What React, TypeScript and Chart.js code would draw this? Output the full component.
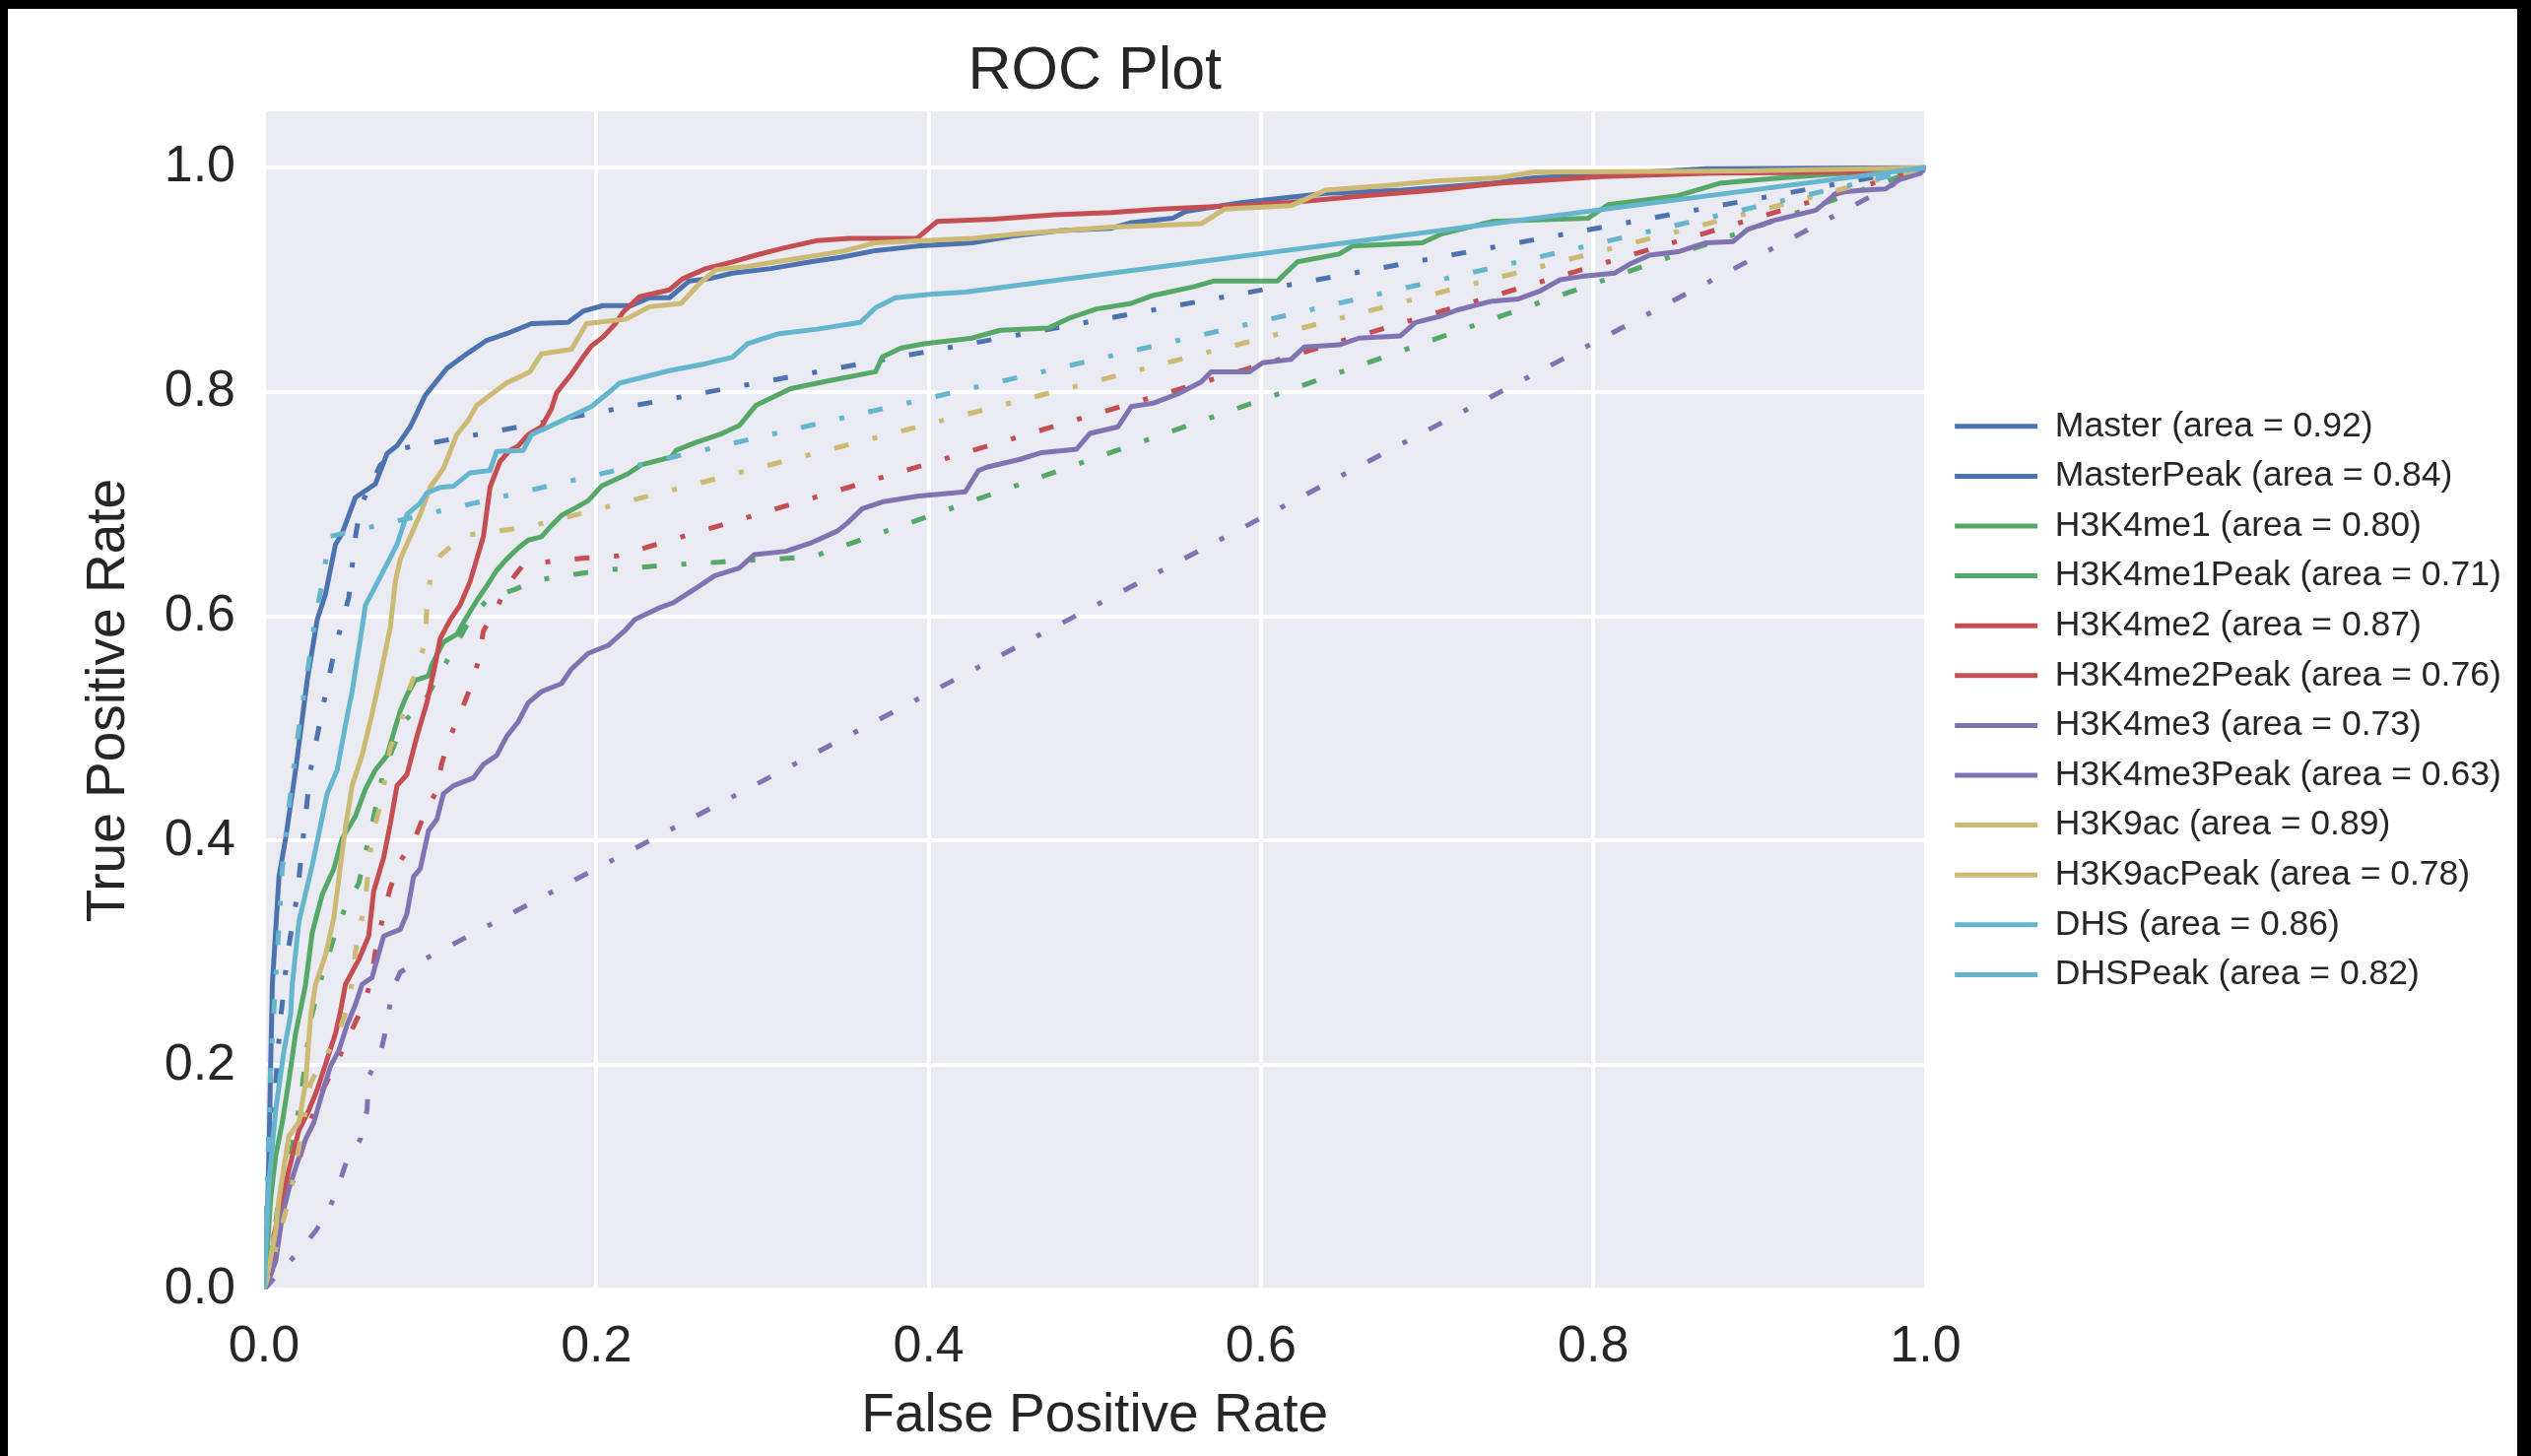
import React, { useEffect, useRef } from 'react';
import { Chart, registerables } from 'chart.js';

Chart.register(...registerables);

// ---------- data ----------
const seriesNames = [
  'Master', 'MasterPeak', 'H3K4me1', 'H3K4me1Peak', 'H3K4me2', 'H3K4me2Peak',
  'H3K4me3', 'H3K4me3Peak', 'H3K9ac', 'H3K9acPeak', 'DHS', 'DHSPeak',
];
const areaValues = [0.92, 0.84, 0.80, 0.71, 0.87, 0.76, 0.73, 0.63, 0.89, 0.78, 0.86, 0.82];
const tickValues = [0, 0.2, 0.4, 0.6, 0.8, 1.0];

const master = [[0,0],[0.002,0.066],[0.003,0.125],[0.004,0.2],[0.005,0.272],[0.009,0.368],[0.013,0.402],[0.019,0.463],[0.026,0.543],[0.032,0.597],[0.037,0.620],[0.043,0.664],[0.047,0.674],[0.055,0.706],[0.067,0.718],[0.074,0.745],[0.080,0.752],[0.088,0.769],[0.090,0.775],[0.097,0.797],[0.110,0.821],[0.123,0.835],[0.134,0.846],[0.146,0.852],[0.161,0.861],[0.183,0.862],[0.192,0.872],[0.204,0.877],[0.221,0.877],[0.232,0.884],[0.244,0.884],[0.256,0.899],[0.268,0.901],[0.282,0.906],[0.305,0.910],[0.329,0.916],[0.347,0.920],[0.368,0.926],[0.393,0.930],[0.426,0.933],[0.451,0.939],[0.480,0.944],[0.510,0.946],[0.522,0.951],[0.547,0.955],[0.555,0.961],[0.589,0.969],[0.639,0.977],[0.685,0.980],[0.739,0.986],[0.764,0.991],[0.809,0.994],[0.868,0.999],[1,1]];
const masterPeak = [[0,0],[0.002,0.06],[0.004,0.125],[0.007,0.184],[0.010,0.242],[0.012,0.269],[0.014,0.298],[0.020,0.352],[0.024,0.409],[0.028,0.463],[0.035,0.516],[0.042,0.567],[0.051,0.617],[0.055,0.671],[0.058,0.698],[0.070,0.735],[0.084,0.750],[1,1]];
const h3k4me1 = [[0,0],[0.002,0.037],[0.004,0.081],[0.007,0.119],[0.011,0.149],[0.015,0.187],[0.019,0.228],[0.023,0.257],[0.025,0.272],[0.029,0.318],[0.035,0.352],[0.042,0.375],[0.047,0.402],[0.055,0.422],[0.061,0.446],[0.067,0.463],[0.074,0.476],[0.078,0.496],[0.082,0.516],[0.086,0.530],[0.091,0.543],[0.099,0.547],[0.101,0.557],[0.108,0.577],[0.116,0.584],[0.121,0.597],[0.128,0.614],[0.134,0.627],[0.140,0.641],[0.146,0.651],[0.153,0.661],[0.159,0.668],[0.167,0.671],[0.173,0.681],[0.179,0.690],[0.189,0.698],[0.195,0.703],[0.203,0.716],[0.219,0.727],[0.227,0.735],[0.245,0.742],[0.248,0.748],[0.260,0.755],[0.274,0.762],[0.286,0.770],[0.296,0.788],[0.317,0.803],[0.340,0.810],[0.368,0.818],[0.372,0.831],[0.383,0.839],[0.397,0.843],[0.426,0.848],[0.443,0.855],[0.472,0.857],[0.485,0.866],[0.501,0.874],[0.522,0.879],[0.535,0.886],[0.560,0.894],[0.572,0.899],[0.610,0.899],[0.622,0.916],[0.647,0.923],[0.655,0.930],[0.697,0.933],[0.709,0.941],[0.739,0.952],[0.797,0.955],[0.809,0.967],[0.851,0.975],[0.876,0.986],[0.913,0.991],[1,1]];
const h3k4me1Peak = [[0,0],[0.005,0.04],[0.009,0.08],[0.015,0.11],[0.022,0.17],[0.028,0.24],[0.035,0.28],[0.043,0.318],[0.049,0.341],[0.057,0.362],[0.065,0.415],[0.072,0.462],[0.084,0.506],[0.096,0.523],[0.110,0.560],[0.125,0.600],[0.136,0.617],[0.151,0.624],[0.163,0.632],[0.203,0.641],[0.246,0.646],[0.282,0.649],[0.330,0.653],[1,1]];
const h3k4me2 = [[0,0],[0.005,0.017],[0.006,0.049],[0.011,0.081],[0.015,0.107],[0.021,0.142],[0.027,0.160],[0.032,0.178],[0.043,0.228],[0.046,0.248],[0.049,0.272],[0.057,0.294],[0.063,0.315],[0.066,0.355],[0.072,0.385],[0.076,0.415],[0.080,0.449],[0.086,0.459],[0.092,0.493],[0.098,0.523],[0.103,0.557],[0.106,0.580],[0.112,0.597],[0.118,0.610],[0.124,0.631],[0.128,0.651],[0.132,0.671],[0.136,0.715],[0.142,0.738],[0.148,0.748],[0.153,0.752],[0.159,0.762],[0.167,0.769],[0.173,0.785],[0.176,0.799],[0.178,0.803],[0.185,0.816],[0.192,0.831],[0.197,0.841],[0.204,0.849],[0.211,0.860],[0.216,0.871],[0.226,0.885],[0.244,0.891],[0.252,0.901],[0.266,0.910],[0.282,0.916],[0.296,0.922],[0.312,0.928],[0.333,0.935],[0.352,0.937],[0.393,0.937],[0.405,0.952],[0.439,0.954],[0.476,0.958],[0.510,0.960],[0.539,0.963],[0.585,0.966],[0.618,0.969],[0.664,0.975],[0.705,0.980],[0.743,0.986],[0.805,0.992],[0.872,0.995],[0.955,0.996],[1,1]];
const h3k4me2Peak = [[0,0],[0.006,0.03],[0.012,0.07],[0.020,0.11],[0.028,0.15],[0.036,0.18],[0.043,0.20],[0.054,0.235],[0.061,0.257],[0.065,0.281],[0.067,0.301],[0.072,0.335],[0.076,0.358],[0.082,0.382],[0.090,0.399],[0.096,0.422],[0.103,0.442],[0.107,0.469],[0.112,0.493],[0.118,0.513],[0.124,0.536],[0.129,0.560],[0.132,0.587],[0.140,0.607],[0.146,0.627],[0.156,0.646],[0.173,0.649],[0.193,0.652],[0.213,0.654],[1,1]];
const h3k4me3 = [[0,0],[0.007,0.025],[0.011,0.066],[0.015,0.090],[0.020,0.113],[0.025,0.134],[0.030,0.149],[0.035,0.175],[0.040,0.199],[0.045,0.213],[0.050,0.236],[0.055,0.254],[0.059,0.272],[0.065,0.278],[0.068,0.294],[0.072,0.315],[0.082,0.321],[0.086,0.335],[0.090,0.368],[0.094,0.375],[0.099,0.409],[0.104,0.419],[0.108,0.442],[0.114,0.449],[0.126,0.456],[0.132,0.468],[0.140,0.476],[0.146,0.493],[0.153,0.506],[0.159,0.523],[0.167,0.533],[0.179,0.540],[0.185,0.553],[0.195,0.567],[0.207,0.574],[0.217,0.587],[0.223,0.597],[0.237,0.607],[0.246,0.612],[0.262,0.627],[0.271,0.636],[0.286,0.643],[0.295,0.655],[0.314,0.658],[0.330,0.666],[0.345,0.676],[0.351,0.683],[0.360,0.696],[0.372,0.702],[0.393,0.707],[0.422,0.711],[0.430,0.730],[0.435,0.733],[0.455,0.740],[0.468,0.746],[0.489,0.749],[0.497,0.763],[0.514,0.769],[0.522,0.787],[0.535,0.790],[0.551,0.799],[0.564,0.809],[0.570,0.818],[0.593,0.818],[0.601,0.826],[0.618,0.829],[0.626,0.840],[0.647,0.842],[0.659,0.848],[0.684,0.850],[0.693,0.862],[0.709,0.868],[0.718,0.873],[0.739,0.881],[0.755,0.883],[0.768,0.890],[0.780,0.900],[0.793,0.903],[0.813,0.906],[0.822,0.914],[0.834,0.922],[0.851,0.925],[0.868,0.933],[0.884,0.934],[0.893,0.945],[0.909,0.953],[0.934,0.962],[0.947,0.978],[0.963,0.980],[0.976,0.981],[0.984,0.989],[0.997,0.995],[1,1]];
const h3k4me3Peak = [[0,0],[0.011,0.018],[0.021,0.034],[0.031,0.052],[0.039,0.071],[0.045,0.093],[0.050,0.116],[0.058,0.134],[0.062,0.160],[0.063,0.190],[0.070,0.210],[0.074,0.236],[0.077,0.266],[0.082,0.283],[1,1]];
const h3k9ac = [[0,0],[0.003,0.02],[0.007,0.052],[0.009,0.081],[0.015,0.137],[0.021,0.149],[0.025,0.184],[0.028,0.243],[0.031,0.272],[0.037,0.298],[0.042,0.331],[0.046,0.378],[0.049,0.412],[0.053,0.449],[0.059,0.476],[0.065,0.513],[0.070,0.547],[0.076,0.590],[0.079,0.631],[0.082,0.651],[0.088,0.671],[0.094,0.691],[0.100,0.715],[0.108,0.732],[0.116,0.762],[0.123,0.775],[0.128,0.788],[0.136,0.797],[0.146,0.808],[0.160,0.818],[0.167,0.834],[0.185,0.838],[0.194,0.861],[0.218,0.865],[0.232,0.876],[0.251,0.879],[0.263,0.898],[0.272,0.909],[0.291,0.912],[0.312,0.917],[0.347,0.925],[0.368,0.933],[0.426,0.937],[0.455,0.941],[0.510,0.947],[0.564,0.950],[0.578,0.963],[0.618,0.966],[0.639,0.980],[0.676,0.984],[0.705,0.988],[0.743,0.991],[0.764,0.996],[0.892,0.997],[1,1]];
const h3k9acPeak = [[0,0],[0.005,0.025],[0.014,0.075],[0.018,0.102],[0.028,0.184],[0.034,0.201],[0.043,0.222],[0.050,0.250],[0.053,0.274],[0.055,0.301],[0.061,0.348],[0.065,0.405],[0.069,0.426],[0.073,0.456],[0.076,0.483],[0.082,0.503],[0.086,0.530],[0.092,0.553],[0.097,0.577],[0.098,0.607],[0.100,0.634],[0.106,0.654],[0.120,0.672],[0.160,0.680],[1,1]];
const dhs = [[0,0],[0.003,0.096],[0.007,0.160],[0.012,0.213],[0.016,0.245],[0.017,0.272],[0.021,0.328],[0.029,0.378],[0.038,0.442],[0.044,0.463],[0.049,0.503],[0.053,0.533],[0.058,0.580],[0.061,0.610],[0.066,0.624],[0.072,0.641],[0.080,0.664],[0.086,0.691],[0.094,0.701],[0.098,0.710],[0.106,0.715],[0.114,0.716],[0.124,0.728],[0.136,0.730],[0.140,0.747],[0.156,0.748],[0.161,0.762],[0.173,0.770],[0.187,0.780],[0.197,0.787],[0.207,0.799],[0.214,0.808],[0.225,0.812],[0.244,0.819],[0.265,0.825],[0.282,0.831],[0.291,0.843],[0.310,0.852],[0.333,0.856],[0.359,0.862],[0.368,0.875],[0.380,0.884],[0.401,0.887],[0.422,0.889],[1,1]];
const dhsPeak = [[0,0],[0.002,0.10],[0.004,0.20],[0.008,0.30],[0.011,0.375],[0.015,0.43],[0.020,0.49],[0.026,0.55],[0.031,0.60],[0.036,0.637],[0.039,0.671],[1,1]];

const seriesPoints = [master, masterPeak, h3k4me1, h3k4me1Peak, h3k4me2, h3k4me2Peak, h3k4me3, h3k4me3Peak, h3k9ac, h3k9acPeak, dhs, dhsPeak];
const seriesColors = ['#4C72B0', '#4C72B0', '#55A868', '#55A868', '#C44E52', '#C44E52', '#8172B2', '#8172B2', '#CCB974', '#CCB974', '#64B5CD', '#64B5CD'];
const seriesDashed = [false, true, false, true, false, true, false, true, false, true, false, true];

// ---------- styling ----------
const FONT = "'Liberation Sans', Arial, Helvetica, sans-serif";
const TEXT = '#262626';
const LEGEND_FONT = 35.5;
const LEGEND_PAD = 15.1;
const LEGEND_LINE = 84;
const GAP_W = 14.5;

const plotBackground = {
  id: 'plotBackground',
  beforeDraw(chart: any) {
    const { ctx, chartArea } = chart;
    if (!chartArea) return;
    ctx.save();
    ctx.fillStyle = '#EAEAF2';
    ctx.fillRect(chartArea.left, chartArea.top, chartArea.right - chartArea.left, chartArea.bottom - chartArea.top);
    ctx.restore();
  },
};

export default function App() {
  const ref = useRef<HTMLCanvasElement>(null);

  useEffect(() => {
    document.body.style.margin = '0';
    document.body.style.overflow = 'hidden';
    Chart.defaults.font.family = FONT;
    Chart.defaults.color = TEXT;
    const n = seriesNames.length;
    const labels = seriesNames.map((name, i) => `${name} (area = ${areaValues[i].toFixed(2)})`);

    // width the legend will need, so the plot's right edge lands where it should
    const mctx = document.createElement('canvas').getContext('2d') as CanvasRenderingContext2D;
    mctx.font = `${LEGEND_FONT}px ${FONT}`;
    const maxText = Math.max(...labels.map((l) => mctx.measureText(l).width));
    const legendWidth = LEGEND_PAD + LEGEND_LINE + LEGEND_FONT / 2 + maxText + 11.5;
    const rightPad = Math.max(0, 2569 - 1953 - GAP_W - legendWidth);

    const chart = new Chart(ref.current as HTMLCanvasElement, {
      type: 'line',
      data: {
        datasets: seriesNames.map((name, i) => ({
          label: labels[i],
          data: seriesPoints[i].map(([x, y]) => ({ x, y })),
          borderColor: seriesColors[i],
          backgroundColor: seriesColors[i],
          borderWidth: 5,
          borderDash: seriesDashed[i] ? [15, 25, 5, 25] : [],
          borderJoinStyle: 'round',
          pointRadius: 0,
          pointHoverRadius: 0,
          tension: 0,
          fill: false,
          order: n - i,
        })),
      },
      options: {
        animation: false,
        responsive: false,
        devicePixelRatio: 1,
        events: [],
        layout: { padding: { left: 0, top: 0, right: rightPad, bottom: 0 } },
        plugins: {
          tooltip: { enabled: false },
          title: {
            display: true,
            text: 'ROC Plot',
            fullSize: false,
            color: TEXT,
            font: { size: 61, weight: 'normal', family: FONT },
            padding: { top: 37, bottom: 3 },
          },
          legend: {
            display: true,
            position: 'right',
            align: 'center',
            fullSize: false,
            maxWidth: 1200,
            labels: {
              usePointStyle: true,
              pointStyle: 'line',
              pointStyleWidth: LEGEND_LINE,
              padding: LEGEND_PAD,
              color: TEXT,
              font: { size: LEGEND_FONT, family: FONT },
              sort: (a: any, b: any) => a.datasetIndex - b.datasetIndex,
            },
          },
        },
        scales: {
          x: {
            type: 'linear',
            min: 0,
            max: 1,
            afterBuildTicks: (s: any) => { s.ticks = tickValues.map((v) => ({ value: v })); },
            afterFit: (s: any) => { s.height = 169; },
            grid: { color: '#FFFFFF', lineWidth: 4, drawTicks: false },
            border: { display: false },
            ticks: { padding: 27, color: TEXT, font: { size: 52, family: FONT }, callback: (v: any) => Number(v).toFixed(1) },
            title: { display: true, text: 'False Positive Rate', color: TEXT, font: { size: 55, family: FONT }, padding: { top: 0, bottom: 7 } },
          },
          y: {
            type: 'linear',
            min: 0,
            max: 1.05,
            afterBuildTicks: (s: any) => { s.ticks = tickValues.map((v) => ({ value: v })); },
            afterFit: (s: any) => { s.width = 268; },
            grid: { color: '#FFFFFF', lineWidth: 4, drawTicks: false },
            border: { display: false },
            ticks: { padding: 29, color: TEXT, font: { size: 52, family: FONT }, callback: (v: any) => Number(v).toFixed(1) },
            title: { display: true, text: 'True Positive Rate', color: TEXT, font: { size: 55, family: FONT }, padding: { top: 78, bottom: 0 } },
          },
          gap: {
            type: 'linear',
            position: 'right',
            display: true,
            grid: { display: false },
            border: { display: false },
            ticks: { display: false },
            afterFit: (s: any) => { s.width = GAP_W; },
          },
        },
      } as any,
      plugins: [plotBackground],
    });
    return () => chart.destroy();
  }, []);

  return (
    <div style={{ position: 'relative', width: 2569, height: 1478, background: '#000', overflow: 'hidden' }}>
      <div style={{ position: 'absolute', left: 8, top: 9, width: 2547, height: 1469, background: '#FFFFFF' }} />
      <canvas ref={ref} width={2569} height={1478} style={{ position: 'absolute', left: 0, top: 0, width: 2569, height: 1478 }} />
    </div>
  );
}
